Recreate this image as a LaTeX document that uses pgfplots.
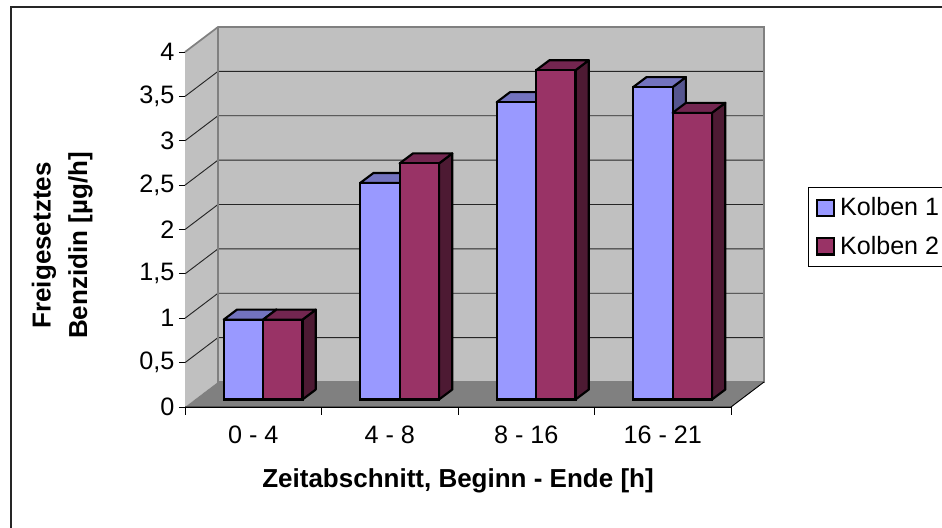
\documentclass[border=0pt]{standalone}
\usepackage{pgfplots}
\pgfplotsset{compat=1.18}
\usepackage{fontspec}
\setmainfont{Liberation Sans}
\definecolor{wall}{HTML}{C0C0C0}
\definecolor{floorc}{HTML}{808080}
\definecolor{aF}{HTML}{9999FF}
\definecolor{aT}{HTML}{7373BF}
\definecolor{aS}{HTML}{55558F}
\definecolor{bF}{HTML}{993366}
\definecolor{bT}{HTML}{732650}
\definecolor{bS}{HTML}{4D1A33}
\newcommand\fs{\fontsize{18.9pt}{22pt}\selectfont}
\newcommand\fl{\fontsize{18.8pt}{22pt}\selectfont}
\newcommand\fb{\fontsize{19.5pt}{23pt}\selectfont\bfseries}
\newcommand\gl[2]{\addplot[draw=black!85,line width=0.7pt] coordinates {(0,#1)(0.2418,#2)(4.2418,#2)};}
\begin{document}
\begin{tikzpicture}
\path[use as bounding box] (0,0) rectangle (706.5pt,396pt);
\draw[black!85,line width=1.5pt] (8.25pt,0) -- (8.25pt,390.9pt) -- (706.5pt,390.9pt);
\begin{axis}[
  name=main, at={(138.75pt,90.75pt)}, anchor=south west,
  scale only axis, width=409.5pt, height=266.25pt,
  xmin=0, xmax=4, ymin=0, ymax=4, clip=false,
  axis x line*=bottom, axis y line*=left, axis line style={-,line width=0.7pt},
  tick align=outside, tick style={black,line width=0.7pt},
  font=\fs,
  /pgf/number format/assume math mode=true,
  /pgf/number format/use comma,
  ytick={0,0.5,...,4},
  major tick length=4.5pt,
  yticklabels={0,{0,5},1,{1,5},2,{2,5},3,{3,5},4},
  xtick={0.5,1.5,2.5,3.5},
  xticklabels={0 - 4,4 - 8,8 - 16,16 - 21},
  minor xtick={0,1,2,3,4},
  x tick style={draw=none},
  minor x tick style={draw=black,line width=0.7pt},
  minor tick length=6pt,
  x tick label style={yshift=-6pt},
  xlabel={\fb Zeitabschnitt, Beginn - Ende [h]},
  xlabel style={at={(axis description cs:0.5,-0.2085)},anchor=center},
  ylabel={\begin{tabular}{c}\fb Freigesetztes\\[5.5pt]\fb Benzidin [µg/h]\end{tabular}},
  ylabel style={at={(axis description cs:-0.2235,0.455)},anchor=center,rotate=0},
]
\addplot[fill=wall,draw=none] coordinates {(0.2418,0.2817)(4.2418,0.2817)(4.2418,4.2817)(0.2418,4.2817)} -- cycle;
\addplot[fill=wall,draw=none] coordinates {(0,0)(0.2418,0.2817)(0.2418,4.2817)(0,4)} -- cycle;
\addplot[fill=floorc,draw=none] coordinates {(0,0)(4,0)(4.2418,0.2817)(0.2418,0.2817)} -- cycle;
\gl{0.5}{0.7817}\gl{1}{1.2817}\gl{1.5}{1.7817}\gl{2}{2.2817}\gl{2.5}{2.7817}\gl{3}{3.2817}\gl{3.5}{3.7817}
\addplot[draw=floorc,line width=1.3pt] coordinates {(0,4)(0.2418,4.2817)(4.2418,4.2817)(4.2418,0.2817)(0.2418,0.2817)(0.2418,4.2817)};
\addplot[draw=black,line width=0.7pt] coordinates {(0,0)(4,0)(4.2418,0.2817)};
\end{axis}
\begin{axis}[
  name=bars, at={(146.14pt,96.375pt)}, anchor=south west,
  scale only axis, width=409.5pt, height=266.25pt,
  xmin=0, xmax=4, ymin=0, ymax=4, clip=false, hide axis,
  font=\fs,
  legend cell align=left,
  legend style={at={(axis description cs:1.1224,0.5986)},anchor=north west,
    draw=black,line width=1pt,fill=white,font=\fl,
    inner xsep=6pt,inner ysep=6pt,row sep=10.75pt,column sep=2.5pt,
    nodes={inner sep=1.5pt}},
]
% Kolben 1: side and top faces
\addplot[fill=aS,draw=black,line width=1.6pt,line join=round,forget plot] coordinates {(0.5,0.9)(0.5975,1.0127)(0.5975,0.1127)(0.5,0)} -- cycle;
\addplot[fill=aT,draw=black,line width=1.6pt,line join=round,forget plot] coordinates {(0.2114,0.9)(0.5,0.9)(0.5975,1.0127)(0.3089,1.0127)} -- cycle;
\addplot[fill=aS,draw=black,line width=1.6pt,line join=round,forget plot] coordinates {(1.5,2.44)(1.5975,2.5527)(1.5975,0.1127)(1.5,0)} -- cycle;
\addplot[fill=aT,draw=black,line width=1.6pt,line join=round,forget plot] coordinates {(1.2114,2.44)(1.5,2.44)(1.5975,2.5527)(1.3089,2.5527)} -- cycle;
\addplot[fill=aS,draw=black,line width=1.6pt,line join=round,forget plot] coordinates {(2.5,3.35)(2.5975,3.4627)(2.5975,0.1127)(2.5,0)} -- cycle;
\addplot[fill=aT,draw=black,line width=1.6pt,line join=round,forget plot] coordinates {(2.2114,3.35)(2.5,3.35)(2.5975,3.4627)(2.3089,3.4627)} -- cycle;
\addplot[fill=aS,draw=black,line width=1.6pt,line join=round,forget plot] coordinates {(3.5,3.52)(3.5975,3.6327)(3.5975,0.1127)(3.5,0)} -- cycle;
\addplot[fill=aT,draw=black,line width=1.6pt,line join=round,forget plot] coordinates {(3.2114,3.52)(3.5,3.52)(3.5975,3.6327)(3.3089,3.6327)} -- cycle;
% Kolben 1: front faces
\addplot[ybar,bar width=29.55pt,bar shift=-14.775pt,fill=aF,draw=black,line width=1.6pt,
  legend image code/.code={\draw[fill=aF,draw=black,line width=1.6pt] (-3.5pt,-6.2pt) rectangle (8.7pt,6pt);}]
  coordinates {(0.5,0.9)(1.5,2.44)(2.5,3.35)(3.5,3.52)};
\addlegendentry{Kolben 1}
% Kolben 2: side and top faces
\addplot[fill=bS,draw=black,line width=1.6pt,line join=round,forget plot] coordinates {(0.7886,0.9)(0.8861,1.0127)(0.8861,0.1127)(0.7886,0)} -- cycle;
\addplot[fill=bT,draw=black,line width=1.6pt,line join=round,forget plot] coordinates {(0.5,0.9)(0.7886,0.9)(0.8861,1.0127)(0.5975,1.0127)} -- cycle;
\addplot[fill=bS,draw=black,line width=1.6pt,line join=round,forget plot] coordinates {(1.7886,2.66)(1.8861,2.7727)(1.8861,0.1127)(1.7886,0)} -- cycle;
\addplot[fill=bT,draw=black,line width=1.6pt,line join=round,forget plot] coordinates {(1.5,2.66)(1.7886,2.66)(1.8861,2.7727)(1.5975,2.7727)} -- cycle;
\addplot[fill=bS,draw=black,line width=1.6pt,line join=round,forget plot] coordinates {(2.7886,3.71)(2.8861,3.8227)(2.8861,0.1127)(2.7886,0)} -- cycle;
\addplot[fill=bT,draw=black,line width=1.6pt,line join=round,forget plot] coordinates {(2.5,3.71)(2.7886,3.71)(2.8861,3.8227)(2.5975,3.8227)} -- cycle;
\addplot[fill=bS,draw=black,line width=1.6pt,line join=round,forget plot] coordinates {(3.7886,3.23)(3.8861,3.3427)(3.8861,0.1127)(3.7886,0)} -- cycle;
\addplot[fill=bT,draw=black,line width=1.6pt,line join=round,forget plot] coordinates {(3.5,3.23)(3.7886,3.23)(3.8861,3.3427)(3.5975,3.3427)} -- cycle;
% Kolben 2: front faces
\addplot[ybar,bar width=29.55pt,bar shift=14.775pt,fill=bF,draw=black,line width=1.6pt,
  legend image code/.code={\draw[fill=bF,draw=black,line width=1.6pt] (-3.5pt,-6.2pt) rectangle (8.7pt,6pt);}]
  coordinates {(0.5,0.9)(1.5,2.66)(2.5,3.71)(3.5,3.23)};
\addlegendentry{Kolben 2}
\end{axis}
\end{tikzpicture}
\end{document}
